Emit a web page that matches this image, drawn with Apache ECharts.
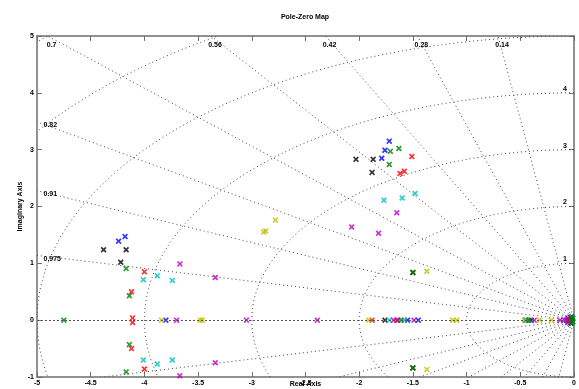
<!DOCTYPE html>
<html>
<head>
<meta charset="utf-8">
<title>Pole-Zero Map</title>
<script src="https://cdn.jsdelivr.net/npm/echarts@6/dist/echarts.min.js"></script>
<style>
  html, body { margin: 0; padding: 0; background: #fff; }
  #chart { width: 579px; height: 389px; }
</style>
</head>
<body>
<div id="chart"></div>
<script>
/* 坐标轴范围 */
const xRange = [-5, 0]
const yRange = [-1, 5]

/* 网格：阻尼比线与自然频率圆 */
const dampingRatios = [0.14, 0.28, 0.42, 0.56, 0.7, 0.82, 0.91, 0.975]
const naturalFreqs = [1, 2, 3, 4, 5, 6, 7]

/* 各系统极点 [实部, 虚部] */
const polesBlack = [
  [-2.03, 2.83], [-1.87, 2.83], [-1.88, 2.60], [-4.38, 1.24], [-4.17, 1.24],
  [-4.22, 1.02], [-1.50, 0.84], [-1.50, -0.84], [-1.76, 0], [-0.40, 0], [-0.04, 0]
]
const polesBlue = [
  [-1.72, 3.15], [-1.76, 2.99], [-1.79, 2.85], [-4.18, 1.47], [-4.24, 1.39],
  [-3.80, 0], [-1.55, 0], [-1.45, 0], [-0.45, 0], [-0.07, 0], [-0.03, 0.05], [-0.03, -0.05]
]
const polesRed = [
  [-1.51, 2.88], [-1.58, 2.62], [-1.62, 2.58], [-4.00, 0.85], [-4.00, -0.86],
  [-4.12, 0.50], [-4.12, -0.50], [-4.11, 0.04], [-4.11, -0.04], [-1.88, 0],
  [-1.65, 0], [-0.05, 0.02], [-0.05, -0.02]
]
const polesCyan = [
  [-1.48, 2.23], [-1.60, 2.15], [-1.77, 2.11], [-4.01, 0.71], [-4.01, -0.70],
  [-3.88, 0.78], [-3.88, -0.77], [-3.74, 0.70], [-3.74, -0.70], [-1.72, 0],
  [-1.58, 0], [-0.44, 0]
]
const polesMagenta = [
  [-1.65, 1.89], [-2.07, 1.64], [-1.82, 1.53], [-3.67, 0.99], [-3.67, -0.98],
  [-3.34, 0.75], [-3.34, -0.75], [-3.70, 0], [-3.05, 0], [-2.39, 0], [-1.68, 0],
  [-1.64, 0], [-1.49, 0], [-0.37, 0], [-0.13, 0], [-0.09, 0], [-0.06, 0.04], [-0.06, -0.04]
]
const polesYellow = [
  [-2.78, 1.76], [-2.89, 1.55], [-2.87, 1.57], [-1.37, 0.86], [-1.37, -0.87],
  [-3.84, 0], [-3.48, 0], [-3.46, 0], [-1.91, 0], [-1.13, 0], [-1.09, 0],
  [-0.46, 0], [-0.32, 0], [-0.21, 0]
]
const polesGreen = [
  [-1.63, 3.02], [-1.71, 2.97], [-1.72, 2.74], [-4.17, 0.91], [-4.17, -0.91],
  [-4.14, 0.43], [-4.14, -0.43], [-1.50, 0.84], [-1.50, -0.84], [-4.75, 0],
  [-1.61, 0], [-0.42, 0], [-0.03, 0], [-0.02, 0.06], [-0.02, -0.06],
  [-0.01, 0.03], [-0.01, -0.03]
]

const systems = [
  { color: '#000000', poles: polesBlack },
  { color: '#0000ff', poles: polesBlue },
  { color: '#ff0000', poles: polesRed },
  { color: '#00bfbf', poles: polesCyan },
  { color: '#bf00bf', poles: polesMagenta },
  { color: '#bfbf00', poles: polesYellow },
  { color: '#008000', poles: polesGreen }
]

/* 样式 */
const fontFamily = '"Liberation Sans", Arial, sans-serif'
const axisColor = '#6e6e6e'
const gridLineStyle = { stroke: '#444', lineWidth: 1, lineDash: [1, 3], fill: null }
const labelFont = 'bold 7px ' + fontFamily
const xMarker = 'path://M0,2L2,0L5,3L8,0L10,2L7,5L10,8L8,10L5,7L2,10L0,8L3,5Z'

const axisTextStyle = { fontFamily, fontSize: 7, fontWeight: 'bold', color: '#000' }

function makeXAxis(position, withLabel) {
  return {
    type: 'value',
    position,
    min: xRange[0],
    max: xRange[1],
    interval: 0.5,
    name: withLabel ? 'Real Axis' : '',
    nameLocation: 'middle',
    nameGap: 4,
    nameMoveOverlap: false,
    nameTextStyle: axisTextStyle,
    axisLine: { onZero: false, lineStyle: { color: axisColor, width: 1.5 } },
    axisTick: { inside: true, length: 5, lineStyle: { color: axisColor, width: 1 } },
    axisLabel: Object.assign({ show: withLabel, margin: 3, showMinLabel: true, showMaxLabel: true }, axisTextStyle),
    splitLine: { show: false }
  }
}

function makeYAxis(position, withLabel) {
  return {
    type: 'value',
    position,
    min: yRange[0],
    max: yRange[1],
    interval: 1,
    name: withLabel ? 'Imaginary Axis' : '',
    nameLocation: 'middle',
    nameRotate: 90,
    nameGap: 13,
    nameMoveOverlap: false,
    nameTextStyle: axisTextStyle,
    axisLine: { onZero: false, lineStyle: { color: axisColor, width: 1.5 } },
    axisTick: { inside: true, length: 5, lineStyle: { color: axisColor, width: 1 } },
    axisLabel: Object.assign({ show: withLabel, margin: 3, showMinLabel: true, showMaxLabel: true }, axisTextStyle),
    splitLine: { show: false }
  }
}

const chart = echarts.init(document.getElementById('chart'))

chart.setOption({
  animation: false,
  /* 标题 */
  title: {
    text: 'Pole-Zero Map',
    left: 300,
    top: 9,
    textAlign: 'center',
    textStyle: axisTextStyle
  },
  grid: { left: 37, right: 5, top: 36, bottom: 12, containLabel: false, outerBoundsMode: 'none' },
  xAxis: [makeXAxis('bottom', true), makeXAxis('top', false)],
  yAxis: [makeYAxis('left', true), makeYAxis('right', false)],
  series: [
    /* 阻尼比线 */
    {
      type: 'custom',
      silent: true,
      clip: true,
      z: 1,
      data: dampingRatios.map(z => [z]),
      renderItem(params, api) {
        const z = dampingRatios[params.dataIndex]
        const s = Math.sqrt(1 - z * z)
        const o = api.coord([0, 0])
        const up = api.coord([-z * 20, s * 20])
        const dn = api.coord([-z * 20, -s * 20])
        return {
          type: 'group',
          children: [
            { type: 'line', shape: { x1: o[0], y1: o[1], x2: up[0], y2: up[1] }, style: gridLineStyle },
            { type: 'line', shape: { x1: o[0], y1: o[1], x2: dn[0], y2: dn[1] }, style: gridLineStyle }
          ]
        }
      }
    },
    /* 自然频率圆 */
    {
      type: 'custom',
      silent: true,
      clip: true,
      z: 1,
      data: naturalFreqs.map(w => [w]),
      renderItem(params, api) {
        const w = naturalFreqs[params.dataIndex]
        const points = []
        for (let a = 90; a <= 270; a += 1) {
          const t = a * Math.PI / 180
          points.push(api.coord([w * Math.cos(t), w * Math.sin(t)]))
        }
        return { type: 'polyline', shape: { points }, style: gridLineStyle }
      },
      markLine: {
        silent: true,
        symbol: 'none',
        animation: false,
        label: { show: false },
        lineStyle: { color: '#555', width: 1, type: [2, 2] },
        data: [{ yAxis: 0 }]
      }
    },
    /* 网格标注 */
    {
      type: 'custom',
      silent: true,
      clip: false,
      z: 2,
      data: dampingRatios.map(z => [z]),
      renderItem(params, api) {
        const z = dampingRatios[params.dataIndex]
        const s = Math.sqrt(1 - z * z)
        const children = []
        const xTop = -yRange[1] * z / s
        if (xTop >= xRange[0]) {
          const p = api.coord([xTop, yRange[1]])
          children.push({
            type: 'text', x: p[0] + 4, y: p[1] + 9,
            style: { text: String(z), font: labelFont, fill: '#000', align: 'center', verticalAlign: 'middle' }
          })
        } else {
          const p = api.coord([xRange[0], -xRange[0] * s / z])
          children.push({
            type: 'text', x: p[0] + 6.5, y: p[1] + 3.5,
            style: { text: String(z), font: labelFont, fill: '#000', align: 'left', verticalAlign: 'middle' }
          })
        }
        const w = naturalFreqs[params.dataIndex]
        if (w !== undefined && w < yRange[1]) {
          const q = api.coord([0, w])
          children.push({
            type: 'text', x: q[0] - 7, y: q[1] - 4,
            style: { text: String(w), font: labelFont, fill: '#000', align: 'right', verticalAlign: 'middle' }
          })
        }
        return { type: 'group', children }
      }
    },
    /* 极点 */
    ...systems.map(sys => ({
      type: 'scatter',
      silent: true,
      clip: false,
      z: 3,
      symbol: xMarker,
      symbolSize: 6,
      itemStyle: { color: sys.color },
      data: sys.poles
    }))
  ]
})
</script>
</body>
</html>
